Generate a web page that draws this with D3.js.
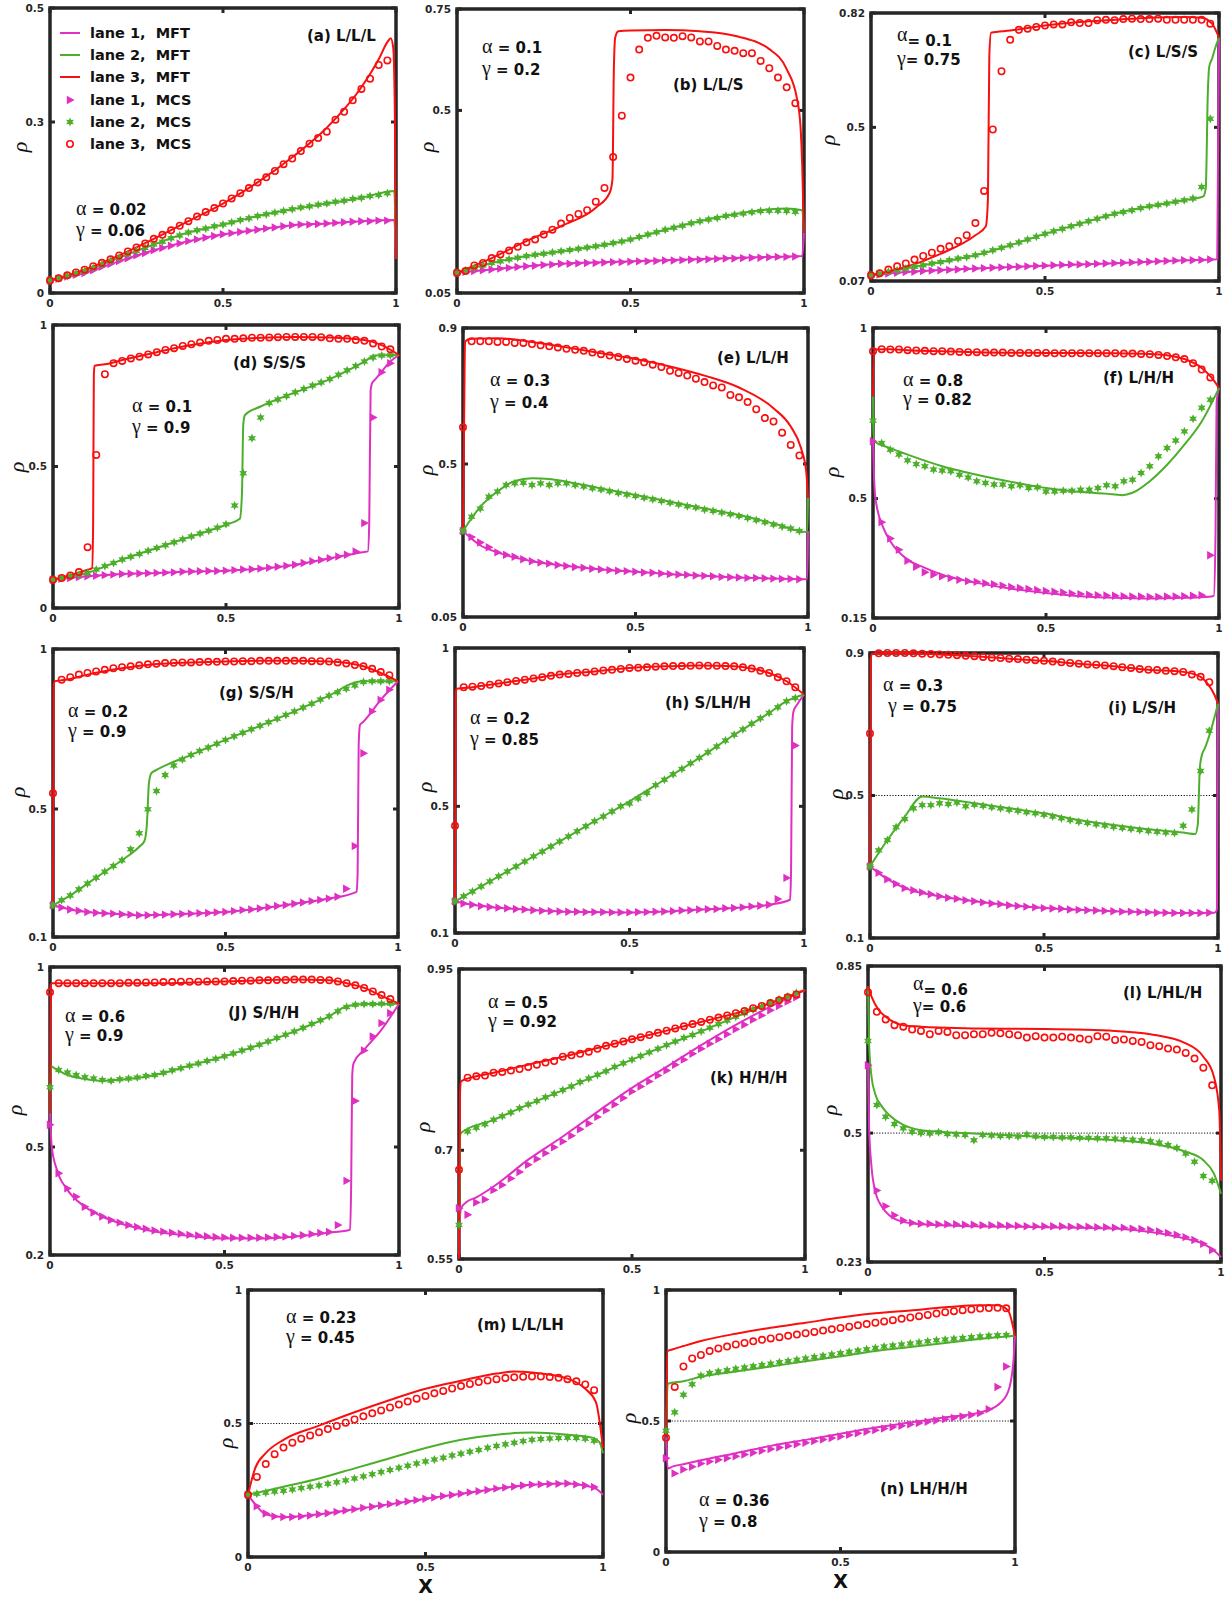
<!DOCTYPE html>
<html><head><meta charset="utf-8">
<script src="https://cdn.jsdelivr.net/npm/d3@7"></script>
<style>body{margin:0;background:#fff}</style>
</head><body>
<script>
// ---------- panel metadata ----------
const panelTitles = ["(a) L/L/L","(b) L/L/S","(c) L/S/S","(d) S/S/S","(e) L/L/H","(f) L/H/H","(g) S/S/H","(h) S/LH/H","(i) L/S/H","(J) S/H/H","(k) H/H/H","(l) L/HL/H","(m) L/L/LH","(n) LH/H/H"];
const alphaVals = ["0.02","0.1","0.1","0.1","0.3","0.8","0.2","0.2","0.3","0.6","0.5","0.6","0.23","0.36"];
const gammaVals = ["0.06","0.2","0.75","0.9","0.4","0.82","0.9","0.85","0.75","0.9","0.92","0.6","0.45","0.8"];
const yDomains = [[0,0.5],[0.05,0.75],[0.07,0.82],[0,1],[0.05,0.9],[0.15,1],[0.1,1],[0.1,1],[0.1,0.9],[0.2,1],[0.55,0.95],[0.23,0.85],[0,1],[0,1]];
const yTicks = [[0,0.3,0.5],[0.05,0.5,0.75],[0.07,0.5,0.82],[0,0.5,1],[0.05,0.5,0.9],[0.15,0.5,1],[0.1,0.5,1],[0.1,0.5,1],[0.1,0.5,0.9],[0.2,0.5,1],[0.55,0.7,0.95],[0.23,0.5,0.85],[0,0.5,1],[0,0.5,1]];
const xTicks = [0, 0.5, 1];
const halfLinePanels = ["(i) L/S/H","(l) L/HL/H","(m) L/L/LH","(n) LH/H/H"];
const legendLabels = ["lane 1,  MFT","lane 2,  MFT","lane 3,  MFT","lane 1,  MCS","lane 2,  MCS","lane 3,  MCS"];

// ---------- mean-field curves: [x, rho] ----------
const mftA1 = [[0,.022],[.1,.035],[.2,.056],[.3,.075],[.4,.091],[.5,.103],[.6,.111],[.7,.119],[.8,.122],[.9,.126],[.995,.128],[1,.06]];
const mftA2 = [[0,.022],[.1,.038],[.2,.062],[.3,.085],[.4,.106],[.5,.12],[.6,.135],[.7,.147],[.8,.157],[.9,.167],[.995,.179],[1,.06]];
const mftA3 = [[0,.022],[.1,.041],[.2,.066],[.3,.095],[.4,.126],[.5,.157],[.6,.194],[.7,.238],[.8,.29],[.9,.361],[.95,.41],[.975,.44],[.985,.447],[.992,.43],[.997,.3],[1,.06]];

const mftB1 = [[0,.1],[.1,.108],[.2,.116],[.3,.122],[.5,.128],[.7,.134],[.9,.139],[.995,.141],[1,.198]];
const mftB2 = [[0,.1],[.1,.124],[.2,.141],[.3,.153],[.4,.165],[.5,.182],[.6,.206],[.7,.227],[.8,.244],[.9,.256],[.95,.258],[.995,.254],[1,.198]];
const mftB3 = [[0,.1],[.1,.136],[.2,.178],[.3,.215],[.4,.26],[.44,.297],[.448,.33],[.452,.6],[.456,.68],[.465,.695],[.5,.697],[.6,.698],[.7,.695],[.8,.684],[.9,.651],[.95,.602],[.98,.528],[.99,.46],[.995,.36],[1,.198]];

const mftC1 = [[0,.086],[.1,.095],[.3,.105],[.5,.113],[.7,.12],[.9,.128],[.995,.131],[1,.751]];
const mftC2 = [[0,.086],[.1,.105],[.2,.123],[.3,.142],[.4,.17],[.5,.202],[.6,.23],[.7,.258],[.8,.279],[.9,.296],[.955,.307],[.962,.33],[.968,.6],[.972,.67],[.98,.692],[.99,.725],[1,.751]];
const mftC3 = [[0,.086],[.1,.109],[.2,.146],[.3,.198],[.33,.223],[.336,.3],[.34,.7],[.345,.765],[.4,.771],[.5,.785],[.6,.795],[.7,.801],[.8,.807],[.9,.809],[.95,.807],[.98,.79],[1,.751]];

const mftD1 = [[0,.1],[.1,.112],[.2,.12],[.3,.124],[.4,.129],[.5,.132],[.6,.139],[.7,.153],[.8,.176],[.9,.198],[.91,.2],[.914,.3],[.918,.77],[.922,.794],[.93,.806],[.95,.835],[.97,.865],[1,.894]];
const mftD2 = [[0,.1],[.1,.124],[.2,.171],[.3,.212],[.4,.253],[.5,.294],[.54,.315],[.546,.4],[.55,.65],[.555,.682],[.6,.712],[.7,.762],[.8,.809],[.9,.871],[.93,.892],[.95,.893],[1,.894]];
const mftD3 = [[0,.1],[.1,.135],[.113,.141],[.116,.3],[.118,.82],[.12,.856],[.15,.861],[.2,.876],[.3,.904],[.4,.929],[.5,.947],[.6,.955],[.7,.958],[.8,.956],[.9,.947],[.95,.929],[1,.894]];

const mftE1 = [[0,.303],[.05,.261],[.1,.24],[.2,.214],[.3,.2],[.4,.19],[.5,.183],[.6,.176],[.7,.171],[.8,.166],[.9,.163],[.998,.161],[1,.303]];
const mftE2 = [[0,.303],[.05,.374],[.1,.419],[.15,.45],[.2,.458],[.25,.456],[.3,.448],[.4,.428],[.5,.409],[.6,.389],[.7,.369],[.8,.35],[.9,.325],[.998,.3],[1,.40]];
const mftE3 = [[0,.303],[.003,.6],[.006,.86],[.02,.868],[.05,.869],[.1,.87],[.2,.859],[.3,.843],[.4,.826],[.5,.809],[.6,.787],[.7,.76],[.8,.725],[.9,.664],[.95,.61],[.98,.546],[.995,.477],[1,.40]];

const mftF1 = [[0,.668],[.003,.56],[.006,.51],[.01,.482],[.03,.414],[.05,.375],[.1,.321],[.15,.297],[.2,.277],[.3,.253],[.4,.236],[.5,.223],[.6,.214],[.7,.209],[.8,.207],[.9,.209],[.97,.212],[.985,.215],[.99,.4],[.993,.78],[.996,.805],[1,.824]];
const mftF2 = [[0,.80],[.001,.70],[.004,.668],[.05,.648],[.1,.629],[.2,.595],[.3,.57],[.4,.549],[.5,.531],[.6,.519],[.7,.512],[.72,.51],[.75,.517],[.8,.551],[.85,.599],[.9,.658],[.95,.726],[1,.824]];
const mftF3 = [[0,.80],[.002,.937],[.05,.938],[.1,.935],[.2,.932],[.3,.929],[.5,.927],[.7,.926],[.8,.924],[.85,.92],[.9,.909],[.95,.883],[.98,.853],[1,.824]];

const mftG1 = [[0,.199],[.05,.186],[.1,.178],[.2,.171],[.25,.168],[.3,.169],[.4,.173],[.5,.178],[.6,.189],[.7,.204],[.8,.22],[.88,.241],[.883,.3],[.886,.7],[.89,.763],[.9,.773],[.95,.841],[1,.899]];
const mftG2 = [[0,.199],[.05,.23],[.1,.267],[.15,.304],[.2,.34],[.25,.382],[.265,.4],[.272,.45],[.278,.58],[.285,.612],[.3,.622],[.4,.669],[.5,.716],[.6,.76],[.7,.805],[.8,.854],[.88,.897],[.9,.899],[1,.899]];
const mftG3 = [[0,.199],[.002,.89],[.005,.899],[.05,.906],[.1,.92],[.2,.94],[.3,.953],[.4,.958],[.5,.961],[.6,.963],[.7,.963],[.8,.961],[.9,.946],[.95,.925],[1,.899]];

const mftH1 = [[0,.2],[.05,.189],[.1,.182],[.2,.174],[.3,.168],[.4,.166],[.5,.165],[.6,.168],[.7,.174],[.8,.179],[.9,.189],[.96,.205],[.963,.3],[.966,.75],[.97,.8],[.98,.821],[1,.853]];
const mftH2 = [[0,.2],[.1,.263],[.2,.326],[.3,.389],[.4,.453],[.5,.516],[.6,.584],[.7,.653],[.8,.726],[.9,.795],[.95,.832],[1,.853]];
const mftH3 = [[0,.2],[.002,.86],[.005,.871],[.05,.876],[.1,.884],[.2,.9],[.3,.916],[.4,.926],[.5,.937],[.6,.942],[.7,.945],[.8,.942],[.85,.935],[.9,.921],[.95,.895],[1,.853]];

const mftI1 = [[0,.301],[.05,.265],[.1,.24],[.2,.217],[.3,.203],[.4,.192],[.5,.184],[.6,.179],[.7,.175],[.8,.172],[.9,.17],[.99,.171],[.997,.18],[1,.758]];
const mftI2 = [[0,.301],[.05,.375],[.1,.441],[.15,.497],[.2,.492],[.3,.478],[.4,.464],[.5,.45],[.6,.431],[.7,.417],[.8,.405],[.9,.396],[.935,.392],[.942,.42],[.948,.58],[.955,.618],[.96,.628],[.98,.684],[1,.758]];
const mftI3 = [[0,.301],[.002,.88],[.005,.898],[.05,.9],[.1,.9],[.2,.896],[.3,.891],[.4,.884],[.5,.878],[.6,.87],[.7,.863],[.8,.853],[.9,.847],[.95,.833],[.97,.814],[.99,.782],[1,.758]];

const mftJ1 = [[0,.594],[.005,.501],[.02,.436],[.05,.381],[.1,.334],[.15,.307],[.2,.288],[.3,.265],[.4,.253],[.5,.246],[.6,.246],[.7,.251],[.8,.262],[.86,.27],[.863,.4],[.866,.7],[.87,.733],[.9,.77],[.95,.826],[1,.898]];
const mftJ2 = [[0,.594],[.002,.724],[.02,.714],[.05,.7],[.1,.689],[.15,.684],[.2,.687],[.3,.7],[.4,.726],[.5,.752],[.6,.784],[.7,.821],[.8,.863],[.85,.891],[.9,.897],[1,.898]];
const mftJ3 = [[0,.594],[.002,.95],[.005,.955],[.1,.955],[.3,.955],[.5,.96],[.7,.965],[.8,.963],[.85,.955],[.9,.942],[.95,.92],[1,.898]];

const mftK1 = [[0,.55],[.003,.61],[.006,.62],[.02,.628],[.05,.635],[.1,.65],[.2,.687],[.3,.719],[.4,.753],[.5,.786],[.6,.815],[.7,.845],[.8,.873],[.9,.898],[1,.921]];
const mftK2 = [[0,.55],[.003,.72],[.006,.724],[.1,.742],[.2,.763],[.3,.783],[.4,.804],[.5,.825],[.6,.845],[.7,.864],[.8,.884],[.9,.903],[1,.921]];
const mftK3 = [[0,.55],[.003,.78],[.006,.795],[.05,.802],[.1,.807],[.2,.818],[.3,.829],[.4,.841],[.5,.853],[.6,.865],[.7,.877],[.8,.889],[.9,.903],[1,.921]];

const mftL1 = [[0,.642],[.003,.513],[.01,.429],[.02,.38],[.04,.345],[.06,.328],[.1,.314],[.15,.309],[.3,.305],[.5,.303],[.7,.3],[.8,.293],[.9,.279],[.95,.268],[.98,.254],[1,.24]];
const mftL2 = [[0,.807],[.003,.688],[.01,.618],[.02,.583],[.04,.555],[.06,.538],[.1,.517],[.15,.506],[.2,.503],[.3,.499],[.5,.492],[.7,.485],[.8,.478],[.9,.461],[.95,.443],[.98,.415],[1,.373]];
const mftL3 = [[0,.807],[.01,.786],[.03,.758],[.05,.744],[.1,.726],[.15,.723],[.2,.721],[.3,.719],[.5,.718],[.7,.714],[.8,.707],[.9,.688],[.95,.66],[.98,.618],[.995,.548],[1,.40]];

const mftM1 = [[0,.233],[.02,.198],[.05,.16],[.1,.149],[.2,.16],[.3,.179],[.4,.198],[.5,.218],[.6,.237],[.7,.256],[.8,.271],[.9,.275],[.95,.267],[.98,.256],[1,.233]];
const mftM2 = [[0,.233],[.1,.263],[.2,.294],[.3,.332],[.4,.37],[.5,.408],[.6,.439],[.7,.458],[.8,.466],[.9,.458],[.97,.447],[.99,.43],[1,.389]];
const mftM3 = [[0,.233],[.02,.332],[.05,.389],[.1,.439],[.2,.492],[.3,.542],[.4,.588],[.5,.63],[.6,.66],[.7,.687],[.75,.695],[.8,.691],[.9,.668],[.95,.63],[.98,.58],[1,.408]];

const mftN1 = [[0,.436],[.005,.319],[.02,.327],[.05,.335],[.1,.35],[.2,.377],[.3,.405],[.4,.428],[.5,.451],[.6,.475],[.7,.494],[.8,.514],[.9,.533],[.95,.56],[.98,.611],[.995,.72],[1,.825]];
const mftN2 = [[0,.436],[.005,.642],[.05,.652],[.1,.669],[.2,.689],[.3,.708],[.4,.728],[.5,.747],[.6,.767],[.7,.782],[.8,.798],[.9,.813],[1,.825]];
const mftN3 = [[0,.436],[.004,.767],[.02,.774],[.05,.786],[.1,.805],[.2,.833],[.3,.856],[.4,.875],[.5,.895],[.6,.911],[.7,.922],[.8,.934],[.9,.942],[.95,.942],[.98,.922],[1,.825]];

// ---------- Monte Carlo densities, sampled at x = i/40 ----------
const mcsA1 = [.022,.025,.029,.032,.035,.040,.046,.051,.056,.061,.066,.070,.075,.079,.083,.087,.091,.094,.097,.100,.103,.105,.107,.109,.111,.113,.115,.117,.119,.120,.120,.121,.122,.123,.124,.125,.126,.126,.127,.127];
const mcsA2 = [.022,.026,.030,.034,.038,.044,.050,.056,.062,.068,.074,.079,.085,.090,.096,.101,.106,.110,.113,.117,.120,.124,.128,.131,.135,.138,.141,.144,.147,.150,.152,.155,.157,.160,.162,.165,.167,.170,.172,.175];
const mcsA3 = [.022,.026,.031,.036,.041,.047,.053,.059,.066,.073,.080,.087,.095,.102,.110,.118,.126,.134,.142,.149,.157,.166,.175,.184,.194,.203,.214,.226,.236,.249,.262,.272,.283,.304,.318,.338,.358,.376,.400,.408];

const mcsB1 = [.100,.102,.104,.106,.108,.110,.112,.114,.116,.117,.119,.120,.122,.122,.123,.124,.124,.125,.126,.126,.127,.128,.128,.129,.130,.130,.131,.132,.132,.133,.134,.135,.135,.136,.137,.137,.138,.139,.139,.140];
const mcsB2 = [.100,.106,.112,.118,.124,.128,.133,.137,.141,.144,.147,.150,.153,.156,.159,.162,.165,.169,.173,.177,.182,.188,.194,.200,.206,.211,.216,.222,.227,.231,.235,.240,.243,.246,.249,.252,.253,.253,.252,.250];
const mcsB3 = [.100,.104,.118,.124,.136,.145,.155,.164,.175,.182,.194,.206,.221,.235,.245,.254,.275,.309,.385,.487,.581,.650,.679,.684,.680,.679,.683,.680,.670,.670,.659,.650,.647,.641,.641,.622,.604,.581,.557,.518];

const mcsC1 = [.086,.088,.091,.093,.095,.096,.098,.099,.100,.101,.102,.104,.105,.106,.107,.108,.109,.110,.111,.112,.113,.114,.115,.116,.116,.117,.118,.119,.120,.121,.122,.123,.124,.125,.126,.127,.128,.128,.129,.130];
const mcsC2 = [.086,.091,.096,.100,.105,.110,.114,.119,.123,.128,.133,.137,.142,.149,.156,.163,.170,.178,.186,.194,.202,.209,.216,.223,.230,.237,.244,.251,.258,.263,.268,.274,.279,.283,.287,.292,.296,.301,.333,.524];
const mcsC3 = [.086,.092,.102,.111,.119,.130,.140,.149,.160,.167,.182,.198,.232,.322,.494,.657,.745,.773,.776,.781,.785,.788,.788,.794,.792,.792,.800,.801,.800,.803,.804,.803,.803,.804,.801,.801,.801,.801,.801,.790];

const mcsD1 = [.100,.103,.106,.109,.112,.114,.116,.118,.120,.121,.122,.123,.124,.125,.126,.128,.129,.130,.131,.131,.132,.134,.136,.137,.139,.142,.146,.149,.153,.159,.165,.170,.176,.182,.188,.200,.300,.673,.833,.865];
const mcsD2 = [.100,.106,.112,.118,.124,.136,.148,.159,.171,.181,.191,.202,.212,.222,.232,.243,.253,.263,.273,.284,.296,.362,.476,.600,.673,.724,.737,.749,.762,.774,.786,.797,.809,.824,.840,.855,.871,.885,.892,.893];
const mcsD3 = [.100,.106,.115,.127,.215,.541,.826,.865,.873,.882,.888,.896,.904,.912,.918,.926,.932,.938,.944,.947,.951,.951,.953,.955,.955,.956,.957,.958,.958,.958,.958,.957,.953,.951,.951,.947,.944,.935,.924,.914];

const mcsE1 = [.303,.285,.269,.255,.240,.233,.227,.220,.214,.210,.207,.203,.200,.197,.195,.192,.190,.188,.186,.185,.183,.181,.180,.178,.176,.175,.174,.172,.171,.170,.168,.167,.166,.165,.165,.164,.163,.162,.162,.161];
const mcsE2 = [.303,.345,.369,.404,.419,.438,.443,.445,.438,.443,.438,.443,.443,.438,.434,.429,.425,.420,.415,.410,.406,.401,.396,.391,.386,.381,.376,.372,.366,.362,.357,.352,.347,.341,.335,.329,.322,.316,.310,.303];
const mcsE3 = [.608,.861,.861,.861,.859,.859,.856,.856,.853,.849,.846,.843,.839,.836,.833,.828,.823,.819,.815,.809,.804,.799,.792,.785,.774,.768,.760,.751,.741,.731,.725,.703,.696,.682,.661,.635,.625,.592,.556,.525];

const mcsF1 = [.668,.431,.383,.350,.318,.300,.284,.277,.272,.267,.262,.258,.256,.252,.249,.245,.241,.238,.235,.232,.229,.227,.225,.222,.220,.218,.217,.216,.215,.214,.213,.213,.212,.212,.213,.213,.214,.215,.217,.334];
const mcsF2 = [.728,.663,.643,.629,.612,.601,.595,.585,.582,.580,.570,.562,.551,.546,.541,.541,.536,.539,.531,.533,.521,.521,.523,.523,.526,.526,.531,.539,.536,.551,.555,.575,.595,.624,.648,.670,.697,.734,.766,.790];
const mcsF3 = [.932,.938,.937,.937,.935,.934,.933,.932,.932,.931,.930,.929,.929,.928,.928,.928,.927,.927,.927,.927,.927,.926,.926,.926,.926,.926,.926,.926,.926,.925,.925,.924,.923,.921,.918,.914,.909,.897,.878,.855];

const mcsG1 = [.199,.192,.186,.182,.178,.176,.174,.173,.171,.170,.168,.168,.169,.170,.171,.172,.173,.174,.175,.177,.178,.181,.184,.186,.189,.193,.197,.200,.204,.208,.212,.216,.220,.226,.251,.384,.674,.805,.841,.873];
const mcsG2 = [.199,.215,.230,.249,.267,.285,.304,.322,.340,.374,.424,.499,.556,.606,.636,.655,.669,.681,.692,.704,.716,.727,.738,.749,.760,.771,.782,.794,.805,.817,.829,.842,.854,.865,.876,.886,.897,.899,.899,.899];
const mcsG3 = [.549,.904,.912,.920,.925,.930,.935,.940,.943,.946,.949,.952,.954,.956,.957,.958,.958,.959,.960,.960,.961,.961,.962,.962,.963,.963,.963,.963,.963,.963,.962,.962,.961,.958,.955,.950,.946,.938,.928,.918];

const mcsH1 = [.200,.193,.189,.185,.182,.180,.178,.176,.174,.172,.170,.169,.168,.167,.167,.166,.166,.166,.165,.165,.165,.166,.166,.167,.168,.169,.171,.172,.174,.175,.176,.178,.179,.181,.184,.186,.189,.207,.274,.692];
const mcsH2 = [.200,.216,.231,.247,.263,.279,.294,.310,.326,.342,.357,.373,.389,.405,.421,.437,.453,.468,.484,.500,.509,.525,.542,.567,.584,.601,.618,.636,.653,.671,.689,.708,.726,.743,.761,.778,.795,.813,.832,.842];
const mcsH3 = [.439,.876,.878,.880,.884,.888,.892,.896,.900,.904,.908,.912,.916,.918,.921,.923,.926,.929,.931,.934,.937,.938,.939,.941,.942,.943,.943,.944,.945,.944,.944,.943,.942,.939,.935,.928,.921,.908,.895,.876];

const mcsI1 = [.301,.283,.265,.252,.240,.234,.228,.223,.217,.213,.210,.206,.203,.200,.197,.195,.192,.190,.188,.186,.184,.183,.182,.180,.179,.178,.177,.176,.175,.174,.174,.173,.172,.171,.171,.170,.170,.170,.170,.171];
const mcsI2 = [.301,.346,.375,.411,.434,.464,.473,.473,.478,.476,.480,.470,.474,.471,.467,.464,.460,.457,.453,.450,.446,.441,.436,.431,.426,.423,.419,.416,.412,.409,.406,.403,.400,.398,.396,.395,.415,.461,.569,.682];
const mcsI3 = [.674,.899,.900,.900,.900,.899,.898,.897,.896,.895,.894,.892,.891,.889,.887,.886,.884,.883,.881,.880,.878,.876,.874,.872,.870,.868,.867,.865,.863,.860,.858,.855,.853,.852,.850,.849,.847,.840,.833,.818];

const mcsJ1 = [.562,.427,.385,.362,.334,.318,.307,.297,.290,.283,.278,.273,.268,.265,.262,.259,.256,.254,.252,.250,.249,.248,.248,.248,.248,.249,.250,.251,.253,.255,.258,.261,.264,.283,.406,.628,.768,.807,.844,.872];
const mcsJ2 = [.666,.714,.707,.700,.694,.690,.686,.684,.688,.690,.693,.697,.700,.706,.713,.719,.726,.732,.739,.745,.752,.760,.768,.776,.784,.793,.803,.812,.821,.831,.842,.852,.863,.877,.889,.895,.897,.897,.898,.898];
const mcsJ3 = [.930,.955,.955,.955,.955,.955,.955,.955,.955,.956,.956,.957,.957,.958,.958,.959,.959,.959,.960,.960,.960,.961,.962,.962,.963,.963,.964,.964,.965,.965,.965,.964,.963,.960,.955,.949,.942,.932,.922,.911];

const mcsK1 = [.620,.611,.628,.632,.645,.652,.661,.670,.680,.688,.696,.704,.712,.720,.729,.737,.746,.755,.763,.772,.781,.788,.795,.803,.810,.818,.825,.833,.840,.847,.853,.860,.867,.873,.880,.886,.893,.899,.905,.911];
const mcsK2 = [.597,.726,.731,.736,.742,.747,.752,.758,.763,.768,.773,.778,.783,.788,.794,.799,.804,.809,.815,.820,.825,.830,.835,.840,.845,.850,.855,.859,.864,.869,.874,.879,.884,.889,.894,.898,.903,.908,.912,.917];
const mcsK3 = [.673,.800,.802,.803,.807,.808,.810,.812,.815,.818,.821,.823,.829,.831,.833,.836,.840,.844,.847,.850,.853,.856,.859,.862,.865,.868,.871,.874,.877,.880,.883,.886,.889,.892,.896,.899,.903,.907,.911,.915];

const mcsL1 = [.642,.380,.347,.328,.317,.312,.310,.310,.309,.309,.309,.308,.308,.307,.307,.307,.306,.306,.305,.305,.305,.305,.305,.304,.304,.304,.303,.303,.302,.302,.300,.299,.297,.294,.291,.287,.282,.276,.268,.255];
const mcsL2 = [.693,.559,.534,.519,.510,.503,.500,.499,.502,.498,.497,.496,.485,.496,.495,.494,.494,.493,.497,.493,.492,.492,.491,.491,.490,.490,.489,.489,.488,.487,.486,.485,.483,.480,.475,.469,.457,.440,.410,.400];
const mcsL3 = [.795,.754,.738,.726,.723,.717,.714,.707,.714,.712,.705,.705,.707,.707,.710,.709,.707,.705,.700,.703,.700,.700,.702,.700,.698,.696,.703,.702,.695,.696,.693,.691,.684,.682,.677,.675,.668,.656,.637,.600];

const mcsM1 = [.233,.190,.163,.152,.150,.150,.152,.155,.160,.164,.169,.174,.179,.184,.188,.193,.198,.203,.208,.213,.218,.223,.228,.232,.237,.242,.246,.251,.256,.260,.264,.268,.271,.272,.273,.274,.275,.272,.268,.262];
const mcsM2 = [.233,.237,.241,.245,.248,.253,.258,.263,.268,.274,.280,.287,.294,.302,.310,.318,.326,.334,.342,.350,.358,.365,.372,.380,.387,.394,.401,.409,.416,.422,.428,.434,.439,.442,.444,.446,.447,.446,.443,.435];
const mcsM3 = [.233,.300,.348,.385,.410,.428,.443,.455,.467,.479,.491,.503,.515,.527,.538,.549,.560,.571,.582,.593,.603,.613,.622,.631,.640,.648,.655,.661,.666,.670,.673,.675,.676,.676,.674,.671,.666,.658,.646,.625];

const mcsN1 = [.358,.300,.315,.325,.338,.345,.352,.358,.365,.372,.379,.386,.393,.399,.405,.411,.417,.423,.429,.435,.441,.447,.453,.459,.465,.471,.477,.482,.487,.492,.497,.502,.507,.512,.517,.523,.530,.545,.630,.708];
const mcsN2 = [.463,.533,.600,.640,.673,.683,.689,.694,.699,.704,.709,.714,.719,.724,.729,.734,.739,.744,.749,.754,.759,.764,.769,.774,.779,.784,.788,.792,.796,.800,.804,.808,.811,.814,.817,.820,.823,.825,.827,.828];
const mcsN3 = [.436,.630,.708,.739,.752,.767,.777,.784,.792,.798,.804,.810,.815,.820,.825,.830,.835,.840,.845,.850,.855,.860,.865,.870,.875,.880,.885,.890,.895,.900,.905,.910,.915,.919,.923,.926,.929,.931,.932,.930];

const mftSets = [[mftA1,mftA2,mftA3],[mftB1,mftB2,mftB3],[mftC1,mftC2,mftC3],[mftD1,mftD2,mftD3],[mftE1,mftE2,mftE3],[mftF1,mftF2,mftF3],[mftG1,mftG2,mftG3],[mftH1,mftH2,mftH3],[mftI1,mftI2,mftI3],[mftJ1,mftJ2,mftJ3],[mftK1,mftK2,mftK3],[mftL1,mftL2,mftL3],[mftM1,mftM2,mftM3],[mftN1,mftN2,mftN3]];
const mcsSets = [[mcsA1,mcsA2,mcsA3],[mcsB1,mcsB2,mcsB3],[mcsC1,mcsC2,mcsC3],[mcsD1,mcsD2,mcsD3],[mcsE1,mcsE2,mcsE3],[mcsF1,mcsF2,mcsF3],[mcsG1,mcsG2,mcsG3],[mcsH1,mcsH2,mcsH3],[mcsI1,mcsI2,mcsI3],[mcsJ1,mcsJ2,mcsJ3],[mcsK1,mcsK2,mcsK3],[mcsL1,mcsL2,mcsL3],[mcsM1,mcsM2,mcsM3],[mcsN1,mcsN2,mcsN3]];

// ---------- layout (pixels) ----------
const frames = [[50,8,396,293],[457,9,804,293],[871,13,1219,281],[53,325,399,608],[463,328,808,617],[873,328,1219,618],[53,649,398,937],[455,648,804,933],[870,653,1218,938],[50,967,399,1255],[459,969,805,1259],[868,966,1221,1262],[248,1290,603,1557],[666,1290,1015,1552]];
const titlePos = [[307,41],[673,90],[1128,57],[233,368],[717,363],[1103,383],[219,698],[665,708],[1108,713],[228,1018],[710,1083],[1123,998],[477,1330],[880,1494]];
const alphaPos = [[76,215],[482,53],[897,46],[132,412],[490,386],[903,386],[68,717],[470,724],[883,691],[65,1022],[488,1008],[913,995],[286,1323],[699,1506]];
const gammaPos = [[76,236],[482,75],[897,65],[132,433],[490,408],[903,405],[68,737],[470,745],[888,712],[65,1041],[488,1027],[913,1012],[286,1343],[699,1527]];
const rhoPos = [[20,147],[427,147],[828,140],[17,467],[426,470],[832,472],[18,792],[425,787],[836,794],[15,1110],[423,1127],[830,1110],[226,1443],[629,1418]];
const raisedAlpha = [false,false,true,false,false,false,false,false,false,false,false,true,false,false];

const laneColors = ["#e030c2", "#4caf2a", "#f80f0f"];
const SANS = "'DejaVu Sans', sans-serif";
const SERIF = "'Liberation Serif', 'DejaVu Serif', serif";
const mcsX = d3.range(40).map(i => i / 40);

const svg = d3.select("body").append("svg").attr("width", 1229).attr("height", 1599)
  .style("background", "#fff");

// marker shapes
const triPath = "M-3.2,-4.2L4.6,0L-3.2,4.2Z";
const starPath = (() => {
  const pts = [];
  for (let k = 0; k < 12; k++) {
    const r = k % 2 === 0 ? 4.6 : 2.3;
    const a = -Math.PI / 2 + k * Math.PI / 6;
    pts.push([r * Math.cos(a), r * Math.sin(a)]);
  }
  return "M" + pts.map(p => p[0].toFixed(2) + "," + p[1].toFixed(2)).join("L") + "Z";
})();

function drawMarker(g, lane, cx, cy) {
  if (lane === 0) {
    g.append("path").attr("d", triPath).attr("transform", `translate(${cx},${cy})`)
      .attr("fill", laneColors[0]);
  } else if (lane === 1) {
    g.append("path").attr("d", starPath).attr("transform", `translate(${cx},${cy})`)
      .attr("fill", laneColors[1]);
  } else {
    g.append("circle").attr("cx", cx).attr("cy", cy).attr("r", 3.2)
      .attr("fill", "none").attr("stroke", laneColors[2]).attr("stroke-width", 1.6);
  }
}

panelTitles.forEach((title, p) => {
  const [x0, y0, x1, y1] = frames[p];
  const x = d3.scaleLinear().domain([0, 1]).range([x0, x1]);
  const y = d3.scaleLinear().domain(yDomains[p]).range([y1, y0]);
  const g = svg.append("g");

  // frame
  g.append("rect").attr("x", x0).attr("y", y0).attr("width", x1 - x0).attr("height", y1 - y0)
    .attr("fill", "none").attr("stroke", "#262626").attr("stroke-width", 3.5);

  // inward ticks on all four sides
  const tickLen = 5;
  xTicks.forEach(t => {
    const px = x(t);
    g.append("line").attr("x1", px).attr("x2", px).attr("y1", y1).attr("y2", y1 - tickLen)
      .attr("stroke", "#262626").attr("stroke-width", 3);
    g.append("line").attr("x1", px).attr("x2", px).attr("y1", y0).attr("y2", y0 + tickLen)
      .attr("stroke", "#262626").attr("stroke-width", 3);
    g.append("text").attr("x", px).attr("y", y1 + 14).attr("text-anchor", "middle")
      .attr("font-family", SANS).attr("font-weight", "bold").attr("font-size", 10.5)
      .attr("fill", "#262626").text(String(t));
  });
  yTicks[p].forEach(t => {
    const py = y(t);
    g.append("line").attr("x1", x0).attr("x2", x0 + tickLen).attr("y1", py).attr("y2", py)
      .attr("stroke", "#262626").attr("stroke-width", 3);
    g.append("line").attr("x1", x1).attr("x2", x1 - tickLen).attr("y1", py).attr("y2", py)
      .attr("stroke", "#262626").attr("stroke-width", 3);
    g.append("text").attr("x", x0 - 6).attr("y", py).attr("dy", "0.36em").attr("text-anchor", "end")
      .attr("font-family", SANS).attr("font-weight", "bold").attr("font-size", 10.5)
      .attr("fill", "#262626").text(String(t));
  });

  // dotted reference at rho = 0.5
  if (halfLinePanels.includes(title)) {
    g.append("line").attr("x1", x0).attr("x2", x1).attr("y1", y(0.5)).attr("y2", y(0.5))
      .attr("stroke", "#111").attr("stroke-width", 1).attr("stroke-dasharray", "1.2,1.6");
  }

  // mean-field lines
  const line = d3.line().x(d => x(d[0])).y(d => y(d[1])).curve(d3.curveMonotoneX);
  mftSets[p].forEach((pts, lane) => {
    g.append("path").attr("d", line(pts)).attr("fill", "none")
      .attr("stroke", laneColors[lane]).attr("stroke-width", 2).attr("stroke-linejoin", "round");
  });

  // Monte Carlo markers
  mcsSets[p].forEach((vals, lane) => {
    vals.forEach((v, i) => drawMarker(g, lane, x(mcsX[i]), y(v)));
  });

  // panel label
  g.append("text").attr("x", titlePos[p][0]).attr("y", titlePos[p][1])
    .attr("font-family", SANS).attr("font-weight", "bold").attr("font-size", 15)
    .attr("fill", "#111").text(title);

  // alpha / gamma annotation
  const sep = raisedAlpha[p] ? "= " : " = ";
  const ta = g.append("text").attr("x", alphaPos[p][0]).attr("y", alphaPos[p][1]).attr("fill", "#111");
  ta.append("tspan").attr("font-family", SERIF).attr("font-size", 20)
    .attr("dy", raisedAlpha[p] ? -5 : 0).text("\u03b1");
  ta.append("tspan").attr("font-family", SANS).attr("font-weight", "bold").attr("font-size", 15)
    .attr("dy", raisedAlpha[p] ? 5 : 0).text(sep + alphaVals[p]);
  const tg = g.append("text").attr("x", gammaPos[p][0]).attr("y", gammaPos[p][1]).attr("fill", "#111");
  tg.append("tspan").attr("font-family", SERIF).attr("font-size", 20).text("\u03b3");
  tg.append("tspan").attr("font-family", SANS).attr("font-weight", "bold").attr("font-size", 15)
    .text(sep + gammaVals[p]);

  // y-axis label
  g.append("text").attr("transform", `translate(${rhoPos[p][0]},${rhoPos[p][1]}) rotate(-90)`)
    .attr("text-anchor", "middle").attr("dy", "0.3em")
    .attr("font-family", SERIF).attr("font-style", "italic").attr("font-size", 22)
    .attr("fill", "#111").text("\u03c1");

  // x-axis label on the bottom row
  if (p >= 12) {
    g.append("text").attr("x", (x0 + x1) / 2).attr("y", y1 + 36).attr("text-anchor", "middle")
      .attr("font-family", SANS).attr("font-weight", "bold").attr("font-size", 19)
      .attr("fill", "#111").text("X");
  }
});

// legend in panel (a)
const legendRows = [33, 55, 77, 100, 122, 144];
const lg = svg.append("g");
legendLabels.forEach((lab, k) => {
  const ry = legendRows[k];
  const lane = k % 3;
  if (k < 3) {
    lg.append("line").attr("x1", 60).attr("x2", 80).attr("y1", ry).attr("y2", ry)
      .attr("stroke", laneColors[lane]).attr("stroke-width", 2);
  } else {
    drawMarker(lg, lane, 70, ry);
  }
  lg.append("text").attr("x", 90).attr("y", ry + 5)
    .attr("font-family", SANS).attr("font-weight", "bold").attr("font-size", 14.5)
    .attr("fill", "#111").attr("xml:space", "preserve").style("white-space", "pre").text(lab);
});
</script>
</body></html>
